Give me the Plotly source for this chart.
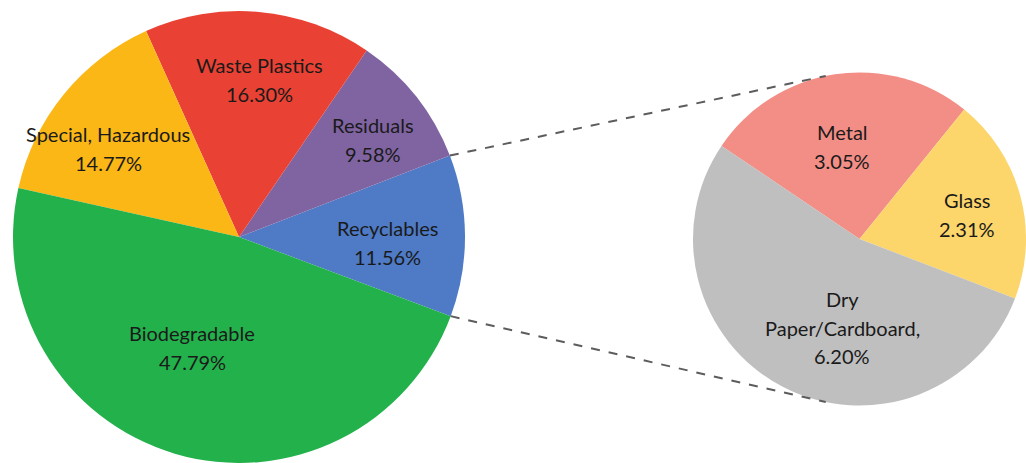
import math
import plotly.graph_objects as go

# Municipal solid waste composition (share of total, %)
main_labels = ["Recyclables", "Residuals", "Waste Plastics", "Special, Hazardous", "Biodegradable"]
main_values = [11.56, 9.58, 16.30, 14.77, 47.79]
main_colors = ["#4e7ac6", "#8064a2", "#e94234", "#fbb715", "#23b14c"]

# Breakdown of the recyclables fraction (share of total, %)
sub_labels = ["Metal", "Glass", "Dry Paper/Cardboard,"]
sub_values = [3.05, 2.31, 6.20]
sub_colors = ["#f28e86", "#fcd56b", "#bfbfbf"]

W, H = 1026, 463
FONT = dict(family="Lato, 'Noto Sans', sans-serif", size=20, color="#1a1a1a")
LINE_GAP = 28.5  # px between stacked label lines


def px(x, y):
    """Pixel position -> paper coordinates."""
    return x / W, 1 - y / H


# Lower edge of the recyclables wedge, clockwise degrees from 12 o'clock
recyc_low_cw = 110.5
recyc_sweep = main_values[0] / sum(main_values) * 360
# Counterclockwise pies: the first slice lies clockwise of `rotation`
main_rot = recyc_low_cw - recyc_sweep

main_dom_x = [12 / W, 466 / W]
main_dom_y = [0.0, 1 - 11 / H]
main_r = min((main_dom_x[1] - main_dom_x[0]) * W, (main_dom_y[1] - main_dom_y[0]) * H) / 2
main_cx = (main_dom_x[0] + main_dom_x[1]) / 2 * W
main_cy = (1 - (main_dom_y[0] + main_dom_y[1]) / 2) * H

sub_rot = -56
sub_dom_x = [693 / W, 1.0]
sub_size = (sub_dom_x[1] - sub_dom_x[0]) * W
sub_cy = 239
sub_dom_y = [(H - (sub_cy + sub_size / 2)) / H, (H - (sub_cy - sub_size / 2)) / H]
sub_r = sub_size / 2
sub_cx = (sub_dom_x[0] + sub_dom_x[1]) / 2 * W

fig = go.Figure()

fig.add_trace(go.Pie(
    labels=main_labels, values=main_values,
    marker=dict(colors=main_colors, line=dict(width=0)),
    sort=False, direction="counterclockwise", rotation=main_rot,
    textinfo="none", hoverinfo="label+value", showlegend=False,
    domain=dict(x=main_dom_x, y=main_dom_y),
))

fig.add_trace(go.Pie(
    labels=sub_labels, values=sub_values,
    marker=dict(colors=sub_colors, line=dict(width=0)),
    sort=False, direction="clockwise", rotation=sub_rot,
    textinfo="none", hoverinfo="label+value", showlegend=False,
    domain=dict(x=sub_dom_x, y=sub_dom_y),
))

# Connector lines from the recyclables wedge to the breakdown pie
low_deg = 90 - recyc_low_cw
high_deg = low_deg + recyc_sweep
connect_deg = 101.7
for a_main, a_sub in [(high_deg, connect_deg), (low_deg, -connect_deg)]:
    x0 = main_cx + main_r * math.cos(math.radians(a_main))
    y0 = main_cy - main_r * math.sin(math.radians(a_main))
    x1 = sub_cx + sub_r * math.cos(math.radians(a_sub))
    y1 = sub_cy - sub_r * math.sin(math.radians(a_sub))
    p0, p1 = px(x0, y0), px(x1, y1)
    fig.add_shape(type="line", xref="paper", yref="paper",
                  x0=p0[0], y0=p0[1], x1=p1[0], y1=p1[1],
                  line=dict(color="#5c5c5c", width=2, dash="dash"))

# Slice labels: (x of centre, y of the first text line) in pixels
label_pos = {
    "Waste Plastics": (259, 65),
    "Special, Hazardous": (108, 134),
    "Residuals": (373, 125),
    "Recyclables": (387, 228),
    "Biodegradable": (192, 333),
    "Metal": (842, 132),
    "Glass": (967, 200),
    "Dry Paper/Cardboard,": (842, 299),
}
for name, val in list(zip(main_labels, main_values)) + list(zip(sub_labels, sub_values)):
    lines = ["Dry", "Paper/Cardboard,"] if name.startswith("Dry") else [name]
    lines.append(f"{val:.2f}%")
    x0, y0 = label_pos[name]
    for i, line in enumerate(lines):
        x, y = px(x0, y0 + i * LINE_GAP)
        fig.add_annotation(x=x, y=y, xref="paper", yref="paper",
                           text=line, showarrow=False, font=FONT,
                           xanchor="center", yanchor="middle")

fig.update_layout(
    width=W, height=H,
    margin=dict(l=0, r=0, t=0, b=0),
    paper_bgcolor="white", plot_bgcolor="white",
)

fig.write_html("out.html")
